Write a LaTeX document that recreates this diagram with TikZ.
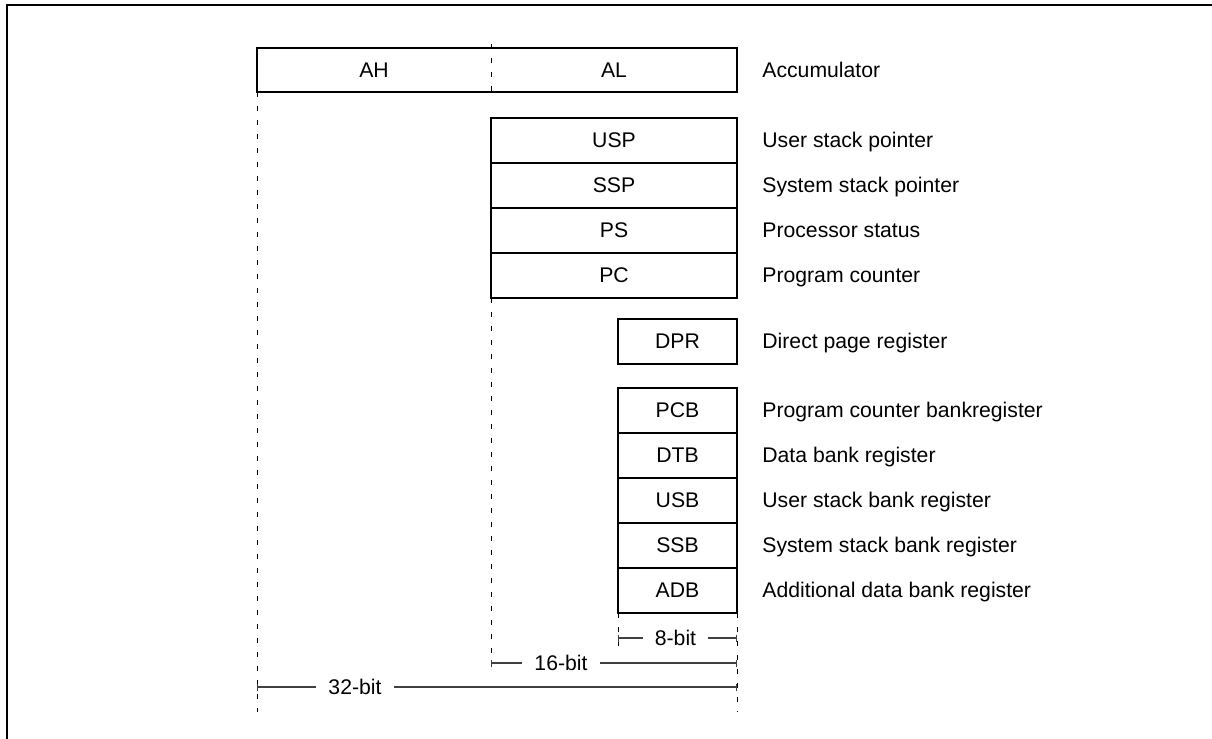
\documentclass[tikz,border=0pt]{standalone}
\usepackage{fontspec}
\setmainfont{Liberation Sans}
\usetikzlibrary{positioning}
\usetikzlibrary{arrows.meta}

\tikzset{
  reg/.style={draw, line width=1pt, inner sep=0pt, outer sep=0pt, minimum height=22.5pt},
  wide/.style={reg, minimum width=123pt},
  narrow/.style={reg, minimum width=59.5pt},
  desc/.style={right=12.5pt of #1, inner sep=0pt, text height=0.72em, text depth=0pt},
  guide/.style={line width=0.5pt, dash pattern=on 2.5pt off 4.5pt},
  span/.style={line width=0.6pt, draw=black!75, {Bar[width=3.5pt]}-{Bar[width=3.5pt]}},
  spanlabel/.style={fill=white, inner xsep=6pt, inner ysep=1pt, text height=0.72em, text depth=0pt}
}

\begin{document}
\begin{tikzpicture}[x=0.5pt, y=-0.5pt, font=\fontsize{10.6}{12.7}\selectfont]
\useasboundingbox (0,0) rectangle (1212,739);
% frame around the figure
\draw[line width=0.8pt] (7,739) -- (7,5) -- (1212,5);

% 32-bit accumulator, split into high and low word
\node[reg, minimum width=240pt, minimum height=22pt] (acc) at (497,70) {};
\node (ah) at (374,70) {AH};
\node (al) at (614,70) {AL};
\coordinate (split) at (491,44);
\draw[guide] (split) -- (split |- acc.south);

% 16-bit registers
\node[wide] (usp) at (614,140.5) {USP};
\node[wide, below=0pt of usp] (ssp) {SSP};
\node[wide, below=0pt of ssp] (ps) {PS};
\node[wide, below=0pt of ps] (pc) {PC};

% 8-bit registers
\node[narrow] (dpr) at (677.5,341) {DPR};
\node[narrow] (pcb) at (677.5,410.5) {PCB};
\node[narrow, below=0pt of pcb] (dtb) {DTB};
\node[narrow, below=0pt of dtb] (usb) {USB};
\node[narrow, below=0pt of usb] (ssb) {SSB};
\node[narrow, below=0pt of ssb] (adb) {ADB};

% register names
\node[desc=acc.east] (nacc) {Accumulator};
\node[desc=usp.east] (nusp) {User stack pointer};
\node[desc=ssp.east] (nssp) {System stack pointer};
\node[desc=ps.east] (nps) {Processor status};
\node[desc=pc.east] (npc) {Program counter};
\node[desc=dpr.east] (ndpr) {Direct page register};
\node[desc=pcb.east] (npcb) {Program counter bankregister};
\node[desc=dtb.east] (ndtb) {Data bank register};
\node[desc=usb.east] (nusb) {User stack bank register};
\node[desc=ssb.east] (nssb) {System stack bank register};
\node[desc=adb.east] (nadb) {Additional data bank register};

% guide lines down to the widths
\draw[guide] (acc.south west) -- ++(0,620);
\draw[guide] (pc.south west) -- ++(0,368);
\draw[guide] (adb.south west) -- ++(0,38);
\draw[guide] (adb.south east) -- ++(0,99);

% widths
\draw[span] (618,638) -- (737,638);
\node[spanlabel] (w8) at (675.5,638) {8-bit};
\draw[span] (491,663) -- (737,663);
\node[spanlabel] (w16) at (561,663) {16-bit};
\draw[span] (257,687) -- (737,687);
\node[spanlabel] (w32) at (355,687) {32-bit};
\end{tikzpicture}
\end{document}
